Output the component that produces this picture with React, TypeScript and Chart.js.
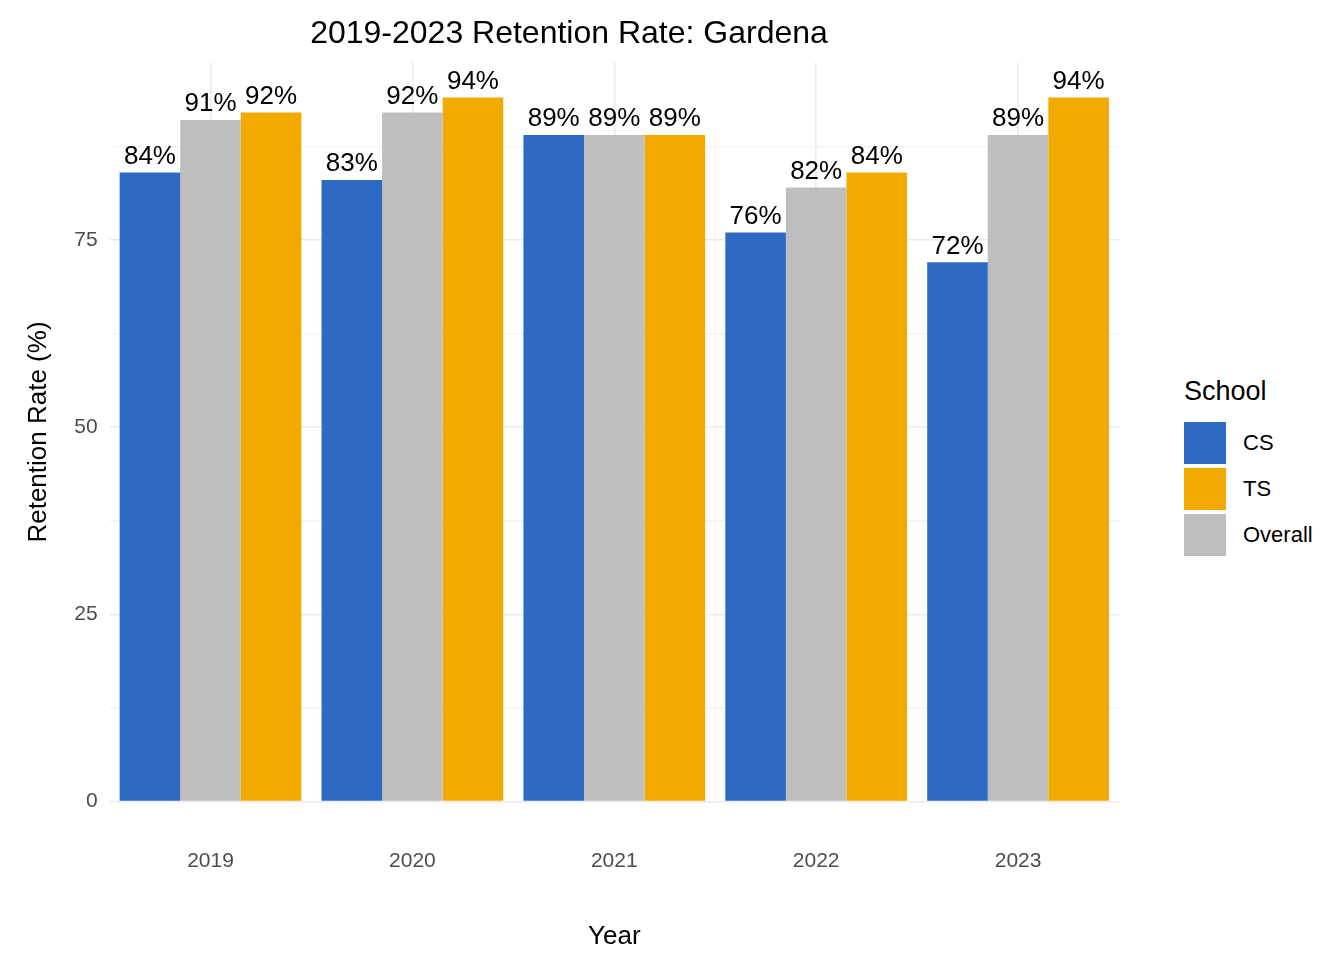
import React, { useEffect, useRef } from 'react';
import { Chart, registerables } from 'chart.js';

Chart.register(...registerables);

const years = ['2019', '2020', '2021', '2022', '2023'];
const csValues = [84, 83, 89, 76, 72];
const overallValues = [91, 92, 89, 82, 89];
const tsValues = [92, 94, 89, 84, 94];

const FONT = 'Arial, "Liberation Sans", sans-serif';

const barLabels = {
  id: 'barLabels',
  afterDatasetsDraw(chart: Chart) {
    const ctx = chart.ctx;
    ctx.save();
    ctx.font = `26px ${FONT}`;
    ctx.fillStyle = '#000';
    ctx.textAlign = 'center';
    ctx.textBaseline = 'bottom';
    chart.data.datasets.forEach((ds, i) => {
      chart.getDatasetMeta(i).data.forEach((bar: any, j) => {
        ctx.fillText(`${ds.data[j]}%`, bar.x, bar.y - 3);
      });
    });
    ctx.restore();
  },
};

export default function App() {
  const canvasRef = useRef<HTMLCanvasElement>(null);
  useEffect(() => {
    if (!canvasRef.current) return;
    const chart = new Chart(canvasRef.current, {
      type: 'bar',
      data: {
        labels: years,
        datasets: [
          { label: 'CS', data: csValues, backgroundColor: '#2e6ac4' },
          { label: 'Overall', data: overallValues, backgroundColor: '#bebebe' },
          { label: 'TS', data: tsValues, backgroundColor: '#f2aa00' },
        ],
      },
      options: {
        responsive: false,
        animation: false,
        layout: { padding: { top: 10, left: 19, right: 31, bottom: 4 } },
        datasets: { bar: { categoryPercentage: 0.9, barPercentage: 1 } },
        plugins: {
          legend: { display: false },
          tooltip: { enabled: false },
          title: {
            display: true,
            text: '2019-2023 Retention Rate: Gardena',
            color: '#000',
            font: { family: FONT, size: 32, weight: 'normal' },
            padding: { top: 0, bottom: 9 },
          },
        },
        scales: {
          x: {
            grid: { color: '#ebebeb', lineWidth: 1.5, drawTicks: false, offset: false },
            border: { display: false },
            ticks: { color: '#4d4d4d', font: { family: FONT, size: 21 }, padding: 47 },
            title: { display: true, text: 'Year', color: '#000', font: { family: FONT, size: 26 }, padding: { top: 0 } },
          },
          y: {
            min: 0,
            max: 98.7,
            afterBuildTicks: (axis: any) => {
              axis.ticks = [0, 12.5, 25, 37.5, 50, 62.5, 75, 87.5].map((v) => ({ value: v }));
            },
            grid: {
              color: (c: any) => (c.tick && c.tick.value % 25 === 0 ? '#ebebeb' : '#f3f3f3'),
              lineWidth: 1.5,
              drawTicks: false,
            },
            border: { display: false },
            ticks: {
              color: '#4d4d4d',
              font: { family: FONT, size: 21 },
              padding: 12,
              callback: (v: any) => (Number(v) % 25 === 0 ? String(v) : ''),
            },
            title: { display: true, text: 'Retention Rate (%)', color: '#000', font: { family: FONT, size: 26 }, padding: { bottom: 8 } },
          },
        },
      },
      plugins: [barLabels],
    });
    return () => chart.destroy();
  }, []);

  const legend = [
    ['CS', '#2e6ac4'],
    ['TS', '#f2aa00'],
    ['Overall', '#bebebe'],
  ];

  return (
    <div style={{ position: 'absolute', left: 0, top: 0, width: 1344, height: 960, background: '#fff', fontFamily: FONT }}>
      <canvas ref={canvasRef} width={1150} height={955} style={{ position: 'absolute', left: 0, top: 5 }} />
      <div style={{ position: 'absolute', left: 1184, top: 376, fontSize: 27, color: '#000' }}>School</div>
      {legend.map(([name, color], i) => (
        <div key={name} style={{ position: 'absolute', left: 1184, top: 422 + i * 46, display: 'flex', alignItems: 'center' }}>
          <div style={{ width: 42, height: 42, background: color }} />
          <span style={{ marginLeft: 17, fontSize: 22, color: '#000' }}>{name}</span>
        </div>
      ))}
    </div>
  );
}
